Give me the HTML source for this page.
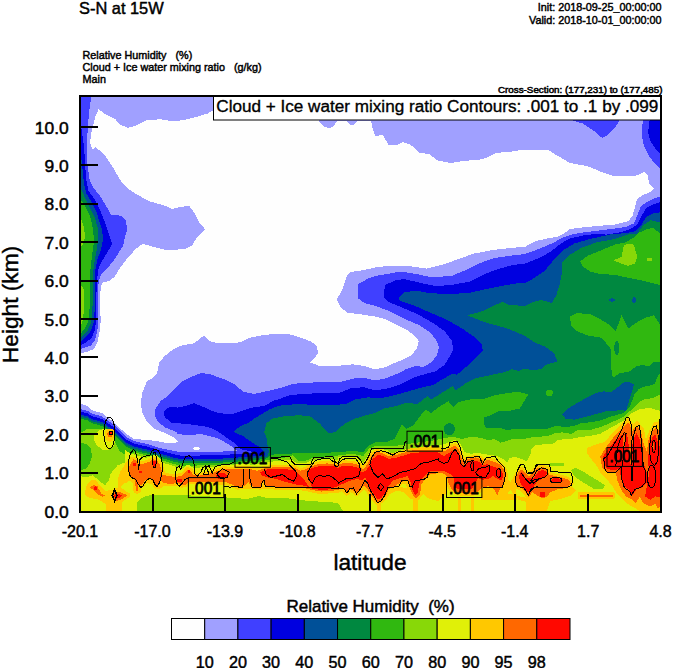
<!DOCTYPE html>
<html><head><meta charset="utf-8"><title>S-N at 15W</title>
<style>
html,body{margin:0;padding:0;background:#fff;}
body{width:674px;height:668px;overflow:hidden;font-family:"Liberation Sans",sans-serif;}
svg{display:block;font-family:"Liberation Sans",sans-serif;}
</style></head><body>
<svg width="674" height="668" viewBox="0 0 674 668">
<rect width="674" height="668" fill="#fff"/>
<defs><clipPath id="pc"><rect x="81" y="97" width="579" height="414"/></clipPath></defs>
<g clip-path="url(#pc)" shape-rendering="crispEdges">
<rect x="81" y="97" width="579" height="414" fill="#a0a0ff"/>
<polygon fill="#fefefe" points="98.6,109.1 104.2,113.6 115.4,119.2 119.9,124.8 127.8,127.7 135.6,125.9 146.9,120.3 160.3,119.2 171.6,121.0 182.8,120.3 196.3,116.9 207.5,113.6 213.1,110.2 213.0,105.0 318.0,105.0 319.0,121.0 323.0,126.0 328.0,128.0 333.0,127.0 337.0,121.0 346.0,121.0 350.0,125.0 354.0,125.0 357.5,121.0 371.0,121.0 372.5,128.0 375.0,136.0 382.9,134.9 388.5,145.0 397.5,145.0 403.0,142.1 410.9,145.0 419.9,152.9 428.9,154.0 437.9,160.7 451.4,163.0 464.8,160.7 478.3,160.1 487.3,157.4 496.3,152.9 509.7,151.8 525.0,149.5 547.4,149.5 556.4,155.1 569.9,162.9 587.8,166.3 601.3,171.9 614.8,176.4 628.2,176.4 637.2,175.3 643.9,171.9 647.3,174.2 649.6,184.3 654.0,188.7 650.7,192.1 643.9,194.4 637.2,198.8 635.0,206.7 632.7,215.7 628.2,221.3 614.8,224.6 599.1,225.8 583.3,227.3 569.9,229.1 564.0,233.6 556.4,237.0 547.4,238.5 536.2,241.0 525.0,246.8 509.7,248.0 491.8,250.2 473.8,253.6 458.1,259.2 442.4,264.8 426.7,268.6 410.9,266.4 399.7,265.5 388.5,265.9 375.0,267.5 364.2,270.0 350.8,272.0 347.4,274.9 341.8,290.6 336.6,299.6 340.6,307.5 347.4,312.6 359.7,314.2 375.0,316.5 386.2,319.4 397.5,325.4 408.7,331.1 415.4,336.7 418.8,341.2 416.5,349.0 410.9,355.8 401.9,360.2 393.0,363.6 386.2,367.0 375.0,369.5 364.2,365.9 353.0,364.3 337.3,365.9 319.3,365.9 310.3,362.5 314.8,358.0 318.2,352.4 316.6,345.7 310.3,341.2 301.4,337.8 290.1,334.4 274.4,333.8 260.9,335.5 249.7,337.8 240.7,342.3 225.0,343.4 218.7,343.4 209.7,341.2 204.1,335.5 199.6,338.9 194.0,343.4 180.5,345.7 173.8,349.0 164.8,355.8 159.2,362.5 157.0,373.7 152.5,378.0 146.9,381.2 142.4,392.5 140.6,403.7 142.4,412.7 146.9,421.7 153.6,428.4 164.8,432.9 173.8,437.4 178.3,441.4 173.8,443.5 164.8,442.6 155.8,441.0 146.8,439.9 134.2,439.0 127.1,434.5 119.9,428.2 113.6,421.9 101.9,413.0 93.0,410.8 87.6,406.1 81.0,404.0 81.0,353.1 87.4,351.7 94.1,349.0 97.5,342.3 99.7,331.1 100.8,319.8 99.7,306.4 100.2,292.9 101.9,282.8 108.7,281.2 114.3,277.2 119.9,268.2 126.7,259.2 135.6,249.1 142.4,243.9 153.6,246.8 167.1,250.2 185.0,249.1 191.8,245.7 197.4,236.7 205.3,229.5 198.5,221.4 194.0,212.4 189.5,206.1 180.5,206.8 172.7,209.0 164.8,205.7 149.1,201.2 136.8,194.4 127.8,188.8 119.9,179.8 114.3,169.7 106.4,157.4 99.7,150.6 95.7,147.3 92.5,149.5 90.3,143.9 90.7,134.9 93.0,125.9 95.2,116.9"/>
<ellipse fill="#fefefe" cx="196.5" cy="448.4" rx="3.5" ry="1.5"/>
<polygon fill="#4040ff" points="81.0,97.0 91.2,97.0 89.6,108.0 88.5,119.2 87.4,134.9 86.7,148.4 87.4,164.1 89.6,179.8 94.1,188.8 99.7,195.5 105.3,204.5 110.9,214.6 121.0,215.8 125.5,220.2 127.1,227.0 127.0,230.0 124.4,239.0 123.3,245.7 118.8,252.5 113.2,261.4 106.4,269.3 100.8,274.9 98.6,281.7 97.9,297.4 98.1,315.3 97.5,328.8 95.2,340.0 90.7,345.7 84.0,347.9 81.0,349.0"/>
<polygon fill="#4040ff" points="573.2,118.0 573.2,120.7 583.3,123.7 594.6,131.5 602.4,138.2 609.2,133.8 614.8,128.1 619.3,120.7 619.3,118.0"/>
<polygon fill="#4040ff" points="642.8,118.0 642.8,120.7 641.7,134.9 643.9,146.1 648.4,155.1 654.0,162.9 660.0,168.5 660.0,118.0"/>
<polygon fill="#4040ff" points="660.0,196.6 652.9,198.8 646.2,202.2 640.6,206.7 637.2,215.7 633.8,223.5 626.0,226.9 610.3,229.1 592.3,231.4 578.9,233.0 570.0,235.0 563.1,237.5 551.9,243.5 538.5,249.1 525.0,254.0 509.7,255.8 494.0,258.1 478.3,263.7 464.8,270.4 451.4,276.0 431.1,277.2 415.4,273.8 399.7,271.5 388.5,273.8 375.0,276.0 368.7,278.3 358.2,283.9 358.2,298.5 364.2,303.0 375.0,305.8 388.5,310.8 404.2,318.7 419.9,325.4 431.1,333.3 436.8,341.2 439.0,346.8 436.8,355.8 431.1,362.5 423.3,367.0 415.4,365.9 406.4,369.0 399.7,372.6 386.2,378.2 375.0,380.5 364.2,377.7 353.0,378.6 341.8,381.5 326.1,381.5 310.3,382.7 292.4,383.8 283.4,387.2 269.9,390.5 254.2,393.9 243.0,391.6 234.0,383.8 225.0,379.3 218.7,377.5 209.7,374.0 200.8,373.0 191.8,376.7 182.8,381.2 176.0,388.0 169.3,394.7 160.3,401.4 154.7,410.4 154.7,414.9 158.1,421.7 164.8,427.3 176.0,431.8 178.0,434.3 192.8,435.1 200.3,433.9 207.7,435.8 216.6,438.0 224.0,441.7 231.4,446.2 235.1,449.9 240.0,452.0 260.3,448.5 252.0,449.5 238.0,450.5 222.5,451.5 207.7,451.5 192.8,452.5 182.5,452.4 175.0,451.2 168.4,449.8 160.0,448.0 152.8,445.7 146.8,444.0 134.2,441.2 127.1,437.6 119.9,430.7 113.6,424.6 101.9,416.4 93.0,413.9 87.6,411.0 81.0,409.2 81.0,511.0 660.0,511.0"/>
<polygon fill="#0000e0" points="81.0,126.0 84.0,146.1 85.1,164.1 86.2,179.8 88.5,191.0 95.2,200.0 99.7,209.0 104.2,220.2 108.7,233.7 112.1,243.5 108.7,250.2 103.1,259.2 98.6,268.2 97.0,279.4 96.3,297.4 96.3,315.3 95.2,328.8 91.8,337.8 86.2,342.3 81.0,345.0"/>
<polygon fill="#0000e0" points="649.6,118.0 649.6,120.7 648.0,132.6 650.7,141.6 655.2,148.3 660.0,154.0 660.0,118.0"/>
<polygon fill="#0000e0" points="660.0,202.2 652.9,204.5 646.2,207.8 641.7,215.7 637.2,224.6 630.5,229.1 619.3,232.5 605.8,234.7 599.1,233.5 583.3,235.5 569.9,238.5 560.9,243.5 549.7,252.4 536.2,259.2 525.0,263.7 514.2,264.8 500.8,268.2 485.0,273.8 469.3,281.7 451.4,285.0 435.6,286.1 419.9,282.8 404.2,279.0 395.2,280.5 385.1,285.0 383.5,295.1 383.5,297.4 388.5,301.9 401.9,307.5 417.7,314.2 433.4,323.2 444.6,331.1 451.4,340.0 453.6,349.0 450.2,355.7 444.6,364.7 435.6,371.4 426.7,373.7 415.4,377.0 401.9,383.8 388.5,388.3 375.0,390.5 364.2,387.2 350.8,388.3 339.5,392.8 323.8,392.8 305.8,393.9 290.1,395.0 278.0,399.5 273.0,400.9 264.1,406.1 255.2,406.9 244.8,409.8 234.4,413.5 227.0,414.3 215.1,412.1 203.2,406.9 194.3,403.2 186.0,406.0 178.0,407.6 169.3,407.0 163.7,411.5 164.8,417.2 171.6,422.8 178.0,423.2 192.8,424.7 207.7,426.9 216.6,430.6 224.0,435.8 231.4,441.0 235.9,444.0 240.0,449.0 262.0,454.0 260.3,452.0 252.0,453.0 238.0,454.0 222.5,455.0 207.7,455.0 192.8,456.0 182.5,455.9 175.0,454.6 168.4,452.8 160.0,450.5 152.8,448.2 146.8,446.5 134.2,443.7 127.1,440.1 119.9,433.2 113.6,427.1 101.9,418.9 93.0,416.4 87.6,413.5 81.0,411.7 81.0,511.0 660.0,511.0"/>
<polygon fill="#005098" points="81.0,156.0 82.2,166.0 83.4,178.5 84.5,186.0 86.2,193.3 91.8,202.3 96.3,211.3 99.7,222.5 102.0,230.0 103.1,239.0 100.8,250.2 97.5,259.2 95.2,270.4 94.8,286.1 94.8,308.6 93.4,324.3 89.6,333.3 84.0,338.9 81.0,341.2"/>
<polygon fill="#005098" points="660.0,212.3 652.9,213.4 646.2,216.8 641.7,224.6 635.0,231.4 626.0,233.0 610.3,234.5 590.1,239.0 574.4,243.5 563.1,250.2 554.2,259.2 545.2,270.4 534.0,278.2 525.0,283.0 516.5,283.4 503.0,285.7 487.3,288.8 469.3,292.9 451.4,294.0 431.1,293.3 415.4,290.6 404.2,292.4 399.0,297.4 399.7,300.7 413.2,305.2 428.9,312.0 446.9,319.8 462.6,328.8 473.8,336.7 481.7,344.5 482.8,350.1 480.5,353.5 473.8,360.2 464.8,368.1 457.0,374.8 452.5,373.7 442.4,379.3 433.4,384.9 423.3,387.2 410.9,390.5 399.7,393.9 386.2,397.3 375.0,398.5 368.7,397.3 355.2,399.5 346.3,404.0 332.8,405.1 317.1,405.1 299.1,404.0 283.4,405.1 278.0,406.1 270.0,409.1 262.6,413.5 255.2,418.0 247.7,423.2 240.3,426.2 233.6,431.4 237.3,433.9 243.3,435.8 247.7,439.5 252.2,442.5 258.1,446.2 262.0,449.0 265.0,454.0 264.0,457.0 260.3,455.5 252.0,456.5 238.0,457.5 222.5,458.5 207.7,458.5 192.8,459.5 182.5,459.4 175.0,458.0 168.4,456.0 160.0,453.5 152.8,451.2 146.8,449.5 134.2,446.7 127.1,443.1 119.9,436.2 113.6,430.1 101.9,421.9 93.0,419.4 87.6,416.5 81.0,414.7 81.0,511.0 660.0,511.0"/>
<polygon fill="#008840" points="81.0,188.8 85.1,197.8 89.6,206.8 94.1,215.8 97.5,227.0 97.9,241.2 96.3,252.5 94.1,263.7 92.5,279.4 92.5,306.4 91.2,322.1 87.4,331.1 82.9,335.5 81.0,337.0"/>
<polygon fill="#008840" points="660.0,222.4 650.7,220.2 643.9,224.6 637.2,233.6 628.2,234.5 614.8,239.0 596.8,242.3 581.1,248.0 569.9,254.7 562.0,262.5 562.0,272.6 559.8,283.9 556.4,295.1 551.9,302.9 540.7,300.0 534.0,301.8 525.0,305.8 509.7,305.2 503.0,301.9 491.8,306.4 480.5,312.0 467.1,315.3 478.3,319.8 491.8,324.3 505.2,327.7 516.5,332.2 525.0,336.0 534.0,342.2 545.2,346.7 554.2,353.4 557.5,361.8 547.4,364.0 540.7,369.2 531.7,370.3 525.0,368.5 518.7,370.8 512.0,369.2 503.0,372.6 491.8,374.8 476.1,378.2 464.8,383.8 455.8,390.5 452.5,386.0 449.1,388.3 440.1,393.9 431.1,399.5 427.8,396.1 424.4,398.4 417.7,404.0 406.4,402.9 395.2,406.2 384.0,408.5 375.0,413.0 366.5,415.2 355.2,418.6 344.0,424.2 335.0,432.1 328.3,433.2 319.3,423.1 310.3,416.4 299.1,415.2 283.4,416.4 272.2,418.6 266.5,423.1 264.3,432.1 266.9,438.9 267.7,446.3 269.0,452.0 267.0,457.0 260.3,457.5 252.0,458.5 238.0,459.5 222.5,460.5 207.7,460.5 192.8,461.5 182.5,461.4 175.0,460.0 168.4,458.0 160.0,455.5 152.8,453.2 146.8,451.5 134.2,448.7 127.1,445.1 119.9,438.2 113.6,432.1 101.9,423.9 93.0,421.4 87.6,418.5 81.0,416.7 81.0,511.0 660.0,511.0"/>
<polygon fill="#005098" points="562.0,414.1 569.9,407.3 583.3,399.5 596.8,392.7 603.5,391.3 610.2,392.6 616.9,387.9 623.7,382.5 629.1,381.9 633.8,384.5 632.4,390.6 629.7,398.7 627.7,405.4 626.4,410.8 621.0,410.1 614.2,410.8 607.5,410.8 600.8,412.8 587.8,416.3 574.4,419.7 565.4,418.5"/>
<ellipse fill="#005098" cx="612.0" cy="300.0" rx="2.8" ry="1.7"/>
<polygon fill="#005098" points="631.6,300.0 634.0,296.2 636.5,300.0 634.0,304.0"/>
<polygon fill="#30b810" points="81.0,200.0 86.2,207.9 90.7,218.0 93.0,229.2 94.1,241.2 92.5,252.5 90.7,265.9 89.6,286.1 89.6,308.6 88.0,322.1 84.4,328.8 81.0,333.3"/>
<polygon fill="#30b810" points="580.0,261.4 587.8,255.8 601.3,250.2 614.8,244.6 626.0,242.3 635.0,236.7 639.5,232.5 646.2,229.5 652.9,227.5 660.0,233.6 660.0,285.0 650.7,282.7 641.7,280.5 630.5,278.2 614.8,274.9 599.1,273.8 590.1,271.5 583.3,267.0"/>
<polygon fill="#30b810" points="569.9,316.4 576.6,313.0 590.1,314.2 601.3,319.8 610.3,325.4 615.9,331.0 621.5,315.3 628.2,328.7 637.2,322.0 646.2,317.5 654.0,315.3 660.0,324.3 660.0,361.6 653.3,362.3 649.3,366.4 643.9,365.3 637.1,365.7 629.1,371.8 619.6,373.1 612.9,377.8 611.5,370.4 610.9,361.0 611.5,351.5 609.2,346.7 601.3,337.7 587.8,335.5 576.6,331.0 571.0,325.4"/>
<ellipse fill="#008840" cx="616.7" cy="348.0" rx="2.5" ry="7.0"/>
<ellipse fill="#30b810" cx="549.5" cy="392.9" rx="3.3" ry="3.3"/>
<polygon fill="#30b810" points="660.0,373.1 657.3,377.1 654.6,383.9 649.3,385.9 643.9,386.6 638.5,389.3 634.4,394.6 631.8,401.4 629.1,408.1 628.0,408.0 623.7,413.0 611.2,416.5 600.0,420.5 592.0,422.0 580.1,423.5 574.2,425.8 565.3,427.3 556.4,425.8 547.5,428.7 537.1,428.7 525.2,429.5 514.8,428.7 507.4,430.2 500.0,428.0 486.7,428.2 483.6,424.0 483.6,417.8 489.9,415.7 498.2,411.5 510.6,410.5 520.0,408.4 524.1,401.2 528.3,394.5 518.9,391.8 508.5,392.9 496.1,394.9 483.6,399.1 471.2,399.1 458.7,402.2 453.5,407.4 448.3,401.2 440.0,406.4 431.1,413.0 425.5,409.6 419.9,416.4 413.2,425.3 406.4,428.7 401.9,424.2 398.8,430.0 394.4,438.9 387.0,441.9 376.6,441.9 367.7,446.3 363.2,452.3 352.8,450.8 338.0,452.3 314.8,453.0 292.4,453.5 275.0,454.0 270.0,456.0 266.0,458.5 260.3,459.5 252.0,460.5 238.0,461.5 222.5,462.5 207.7,462.5 192.8,463.5 182.5,463.4 175.0,462.0 168.4,460.0 160.0,457.5 152.8,455.2 146.8,453.5 134.2,450.7 127.1,447.1 119.9,440.2 113.6,434.1 101.9,425.9 93.0,423.4 87.6,420.5 81.0,418.7 81.0,511.0 660.0,511.0"/>
<ellipse fill="#008840" cx="449.3" cy="429.2" rx="5.5" ry="6.0"/>
<polygon fill="#88d808" points="81.0,219.0 84.0,227.0 85.1,236.7 83.5,243.5 81.0,247.0"/>
<polygon fill="#88d808" points="81.0,285.0 83.5,289.0 84.0,300.0 83.5,314.0 82.5,321.0 81.0,325.0"/>
<polygon fill="#88d808" points="613.6,260.3 621.5,256.9 623.7,245.7 628.2,243.5 633.8,244.6 637.2,256.9 635.0,263.7 628.2,265.9 621.5,263.7"/>
<polygon fill="#88d808" points="647.3,258.0 651.8,258.0 651.8,261.4 647.3,261.4"/>
<polygon fill="#88d808" points="660.0,394.6 654.6,397.3 649.3,398.7 643.9,399.4 639.8,401.4 637.0,404.0 634.0,407.0 630.0,411.0 623.7,416.8 611.2,422.5 600.0,427.3 589.0,430.2 578.6,429.5 571.2,433.9 562.3,432.4 554.9,433.2 547.5,436.2 534.1,436.9 522.3,439.4 511.9,439.1 505.9,441.4 500.3,442.6 494.4,438.9 488.4,440.4 482.5,438.2 472.1,436.7 461.7,438.9 452.8,436.7 442.5,438.5 430.0,441.0 418.0,442.5 406.2,444.1 397.3,445.6 387.0,446.3 376.6,445.6 369.2,448.5 363.2,456.0 352.8,453.7 338.0,455.5 333.0,456.7 321.1,456.7 312.2,458.2 304.8,461.2 297.3,460.4 292.9,455.2 282.5,458.2 267.7,459.7 263.0,461.0 260.3,461.8 252.0,462.8 238.0,463.8 222.5,464.8 207.7,464.8 192.8,465.8 182.5,465.7 175.0,464.3 168.4,462.3 160.0,459.8 152.8,457.1 146.8,455.3 134.2,452.3 127.1,456.0 119.9,451.2 113.6,440.1 101.9,429.4 93.0,428.9 87.6,428.8 81.0,432.7 81.0,511.0 660.0,511.0"/>
<polygon fill="#30b810" points="81.0,443.0 86.0,444.0 91.0,449.0 92.0,456.0 90.0,463.0 87.0,468.0 81.0,470.0"/>
<polygon fill="#e0f008" points="94.0,436.0 98.0,431.0 104.0,428.5 110.0,429.0 114.0,433.0 115.5,440.0 113.0,447.0 108.0,450.0 102.0,449.5 96.5,445.0 94.0,440.0"/>
<polygon fill="#e0f008" points="81.0,476.4 87.3,477.0 92.5,475.4 96.7,478.5 99.8,481.6 105.0,485.2 109.1,480.6 110.2,474.3 113.3,470.2 117.4,465.5 122.0,463.5 124.5,462.5 124.5,449.0 126.0,450.4 127.5,451.7 129.0,452.5 130.5,453.2 132.0,454.0 133.5,454.5 135.0,455.2 136.5,455.6 138.0,455.9 139.5,456.3 141.0,456.6 142.5,456.9 144.0,457.3 145.5,457.6 147.0,457.6 148.5,457.1 150.0,456.5 151.5,455.6 153.0,454.7 154.5,454.8 156.0,455.3 157.5,455.7 159.0,457.4 160.5,459.1 162.0,461.7 163.5,462.9 165.0,463.4 166.5,463.8 168.0,464.3 169.5,464.7 171.0,465.2 172.5,465.6 174.0,466.1 175.5,466.5 177.0,466.8 178.5,467.1 180.0,467.3 181.5,467.6 183.0,467.8 184.5,467.2 186.0,465.9 187.5,464.7 189.0,465.1 190.5,465.6 192.0,467.3 193.5,467.9 195.0,467.8 196.5,467.7 198.0,467.6 199.5,467.5 201.0,467.3 202.5,467.2 204.0,467.1 205.5,467.0 207.0,466.9 208.5,466.9 210.0,466.9 211.5,466.9 213.0,466.9 214.5,466.9 216.0,466.9 217.5,466.4 219.0,465.9 220.5,465.3 222.0,464.8 223.5,464.3 225.0,464.2 226.5,464.5 228.0,464.7 229.5,464.9 231.0,464.9 232.5,464.7 234.0,464.5 235.5,464.3 237.0,464.1 238.5,464.0 240.0,464.1 241.5,464.1 243.0,464.2 244.5,464.2 246.0,464.3 247.5,464.3 249.0,464.4 250.5,464.5 252.0,464.9 253.5,464.7 255.0,464.5 256.5,464.4 258.0,464.2 259.5,464.0 261.0,463.9 262.5,463.9 264.0,461.9 265.5,461.9 267.0,461.9 268.5,461.8 270.0,461.7 271.5,461.6 273.0,461.5 274.5,461.3 276.0,461.2 277.5,461.1 279.0,461.0 280.5,460.9 282.0,460.7 283.5,460.6 285.0,460.4 286.5,460.3 288.0,460.1 289.5,459.9 291.0,459.7 292.5,460.4 294.0,461.3 295.5,462.3 297.0,463.2 298.5,463.4 300.0,463.4 301.5,463.4 303.0,463.4 304.5,463.4 306.0,462.9 307.5,462.3 309.0,461.7 310.5,461.1 312.0,460.5 313.5,460.2 315.0,459.9 316.5,459.7 318.0,459.4 319.5,459.2 321.0,458.9 322.5,458.9 324.0,458.9 325.5,458.9 327.0,458.9 328.5,458.9 330.0,458.9 331.5,458.9 333.0,458.9 334.5,459.3 336.0,459.8 337.5,460.2 338.0,457.4 345.4,456.0 355.8,456.0 360.3,458.9 363.2,463.4 366.2,458.2 370.6,450.8 376.6,448.5 387.0,450.0 392.9,454.5 397.3,451.5 406.2,449.3 420.0,447.5 433.0,446.0 442.5,444.8 449.9,441.9 455.1,439.6 460.3,443.4 464.7,452.3 470.6,453.7 478.1,453.0 487.0,454.5 497.3,456.0 503.3,458.9 507.0,462.6 509.2,458.2 515.1,456.7 521.1,458.9 527.0,461.2 530.7,453.7 531.2,449.5 535.6,445.0 544.5,444.3 553.4,443.6 557.9,439.9 565.3,439.1 574.2,438.4 580.1,436.9 589.0,436.2 600.0,433.9 611.2,427.5 623.7,420.5 632.0,413.0 640.0,409.0 650.0,408.0 660.0,410.8 660.0,511.0 81.0,511.0"/>
<polygon fill="#88d808" points="571.0,470.0 575.5,467.8 582.9,471.5 590.3,476.0 597.7,480.4 605.2,485.6 602.2,489.3 594.8,489.3 587.3,484.9 579.9,480.4 574.0,476.0"/>
<polygon fill="#88d808" points="550.0,463.4 563.6,463.4 563.6,466.4 550.0,466.4"/>
<polygon fill="#88d808" points="136.5,511.0 136.5,503.0 140.0,499.0 146.0,496.0 152.8,495.0 182.0,495.0 210.0,496.5 238.0,498.2 247.0,499.0 259.0,496.0 267.7,498.2 282.5,497.5 297.3,499.7 312.0,501.2 327.0,502.0 338.0,503.0 343.0,511.0"/>
<polygon fill="#ffc800" points="105.0,433.0 108.0,430.0 112.0,430.5 113.5,434.0 113.0,439.0 110.5,442.0 107.0,441.0 105.0,437.0"/>
<polygon fill="#ffc800" points="85.2,492.0 86.3,485.8 90.4,480.6 94.6,479.5 97.7,482.7 101.8,487.8 106.0,491.0 113.3,489.4 118.5,487.3 117.9,480.6 119.0,474.3 121.6,471.2 124.7,473.3 125.7,478.5 123.7,483.7 120.5,487.3 124.7,489.9 128.8,494.1 126.8,498.2 122.6,501.3 121.6,504.5 121.6,511.0 106.0,511.0 106.0,504.5 101.8,501.3 97.7,499.3 91.5,498.2 87.3,497.2 85.2,495.1"/>
<polygon fill="#ffc800" points="119.0,481.0 120.0,472.0 124.0,466.0 127.0,461.0 131.0,458.0 131.0,480.0 126.0,483.0"/>
<polygon fill="#ffc800" points="421.0,479.0 426.0,474.0 438.0,472.0 447.0,473.0 447.0,492.0 438.0,501.2 427.0,498.0 421.0,492.0"/>
<polygon fill="#ffc800" points="388.0,489.0 400.0,487.0 410.0,489.0 418.1,501.2 409.2,498.2 403.3,492.3 397.3,490.5 390.0,494.0"/>
<polygon fill="#ffc800" points="482.0,481.0 506.0,478.0 510.7,481.9 513.0,478.0 516.0,480.0 516.0,492.0 518.1,499.7 527.0,502.0 538.0,501.2 538.0,490.0 527.0,498.0 513.7,495.3 510.7,489.3 506.2,495.3 500.3,499.7 494.4,498.2 486.0,495.5 482.0,495.0"/>
<polygon fill="#ffc800" points="526.0,498.0 547.0,497.0 550.0,501.0 547.0,511.0 526.0,511.0"/>
<polygon fill="#ffc800" points="528.0,488.0 571.0,486.0 576.0,490.0 570.0,496.0 560.0,499.0 550.0,501.0 528.0,501.0"/>
<polygon fill="#ffc800" points="611.1,434.5 605.2,441.9 594.8,444.8 587.3,447.8 587.3,453.7 591.8,459.7 597.7,467.1 600.7,473.0 606.6,479.0 612.6,486.4 617.0,493.8 622.9,499.7 628.0,504.2 640.0,511.0 662.0,511.0 662.0,420.7 653.7,422.4 650.5,429.3 647.0,446.0 644.0,429.0 641.6,425.8 637.3,420.7 633.0,424.1 628.7,417.2 622.7,422.4 612.4,432.7"/>
<polygon fill="#ffc800" points="126.5,470.0 127.5,461.0 130.0,457.5 133.4,456.8 137.0,458.3 139.5,461.5 143.7,461.0 149.7,459.0 153.4,456.8 157.5,458.0 161.0,462.0 163.5,467.0 165.5,474.0 167.0,477.5 172.0,477.8 176.0,476.5 178.0,473.5 182.0,472.5 184.5,469.5 187.5,467.0 191.0,468.0 193.5,472.0 197.3,473.5 204.8,472.0 212.2,470.5 218.1,468.5 224.0,466.4 230.0,467.3 238.0,466.3 249.9,466.7 257.3,468.5 263.2,466.4 275.1,464.9 287.0,464.6 294.4,465.3 300.3,468.0 306.2,466.8 310.7,463.9 318.1,461.6 327.0,460.9 338.0,462.4 338.0,492.3 321.0,493.0 304.8,490.0 282.5,489.0 238.0,489.3 227.0,485.0 200.0,484.0 188.0,484.5 182.0,488.0 176.0,484.0 167.0,482.5 163.0,487.0 158.0,489.5 152.0,484.0 146.0,483.0 141.0,488.0 136.0,487.0 131.0,482.0 127.0,478.0"/>
<polygon fill="#ffc800" points="376.7,499.0 381.0,499.0 381.0,511.0 376.7,511.0"/>
<polygon fill="#ffc800" points="413.4,499.0 417.9,499.0 417.9,511.0 413.4,511.0"/>
<polygon fill="#ffc800" points="458.0,498.0 461.0,498.0 461.0,511.0 458.0,511.0"/>
<polygon fill="#ffc800" points="471.0,498.0 473.5,498.0 473.5,511.0 471.0,511.0"/>
<polygon fill="#ffc800" points="481.0,494.0 500.0,493.0 517.0,494.5 517.0,499.5 500.0,500.0 481.0,499.5"/>
<polygon fill="#ffc800" stroke="#ffc800" stroke-width="5.0" stroke-linejoin="round" points="130.4,463.7 133.4,459.3 136.3,460.8 139.3,464.5 143.7,463.7 149.7,461.5 153.4,459.3 157.1,460.8 160.1,465.2 162.3,472.6 160.8,478.6 158.6,484.5 155.6,486.0 153.4,481.5 149.7,478.6 145.2,480.1 142.3,484.5 139.3,486.0 136.3,481.5 132.6,478.6 129.6,474.1 128.9,468.2"/>
<polygon fill="#ffc800" stroke="#ffc800" stroke-width="5.0" stroke-linejoin="round" points="176.4,480.0 177.5,476.5 182.0,475.5 185.3,472.5 187.5,469.7 190.5,470.5 192.5,474.5 197.3,476.0 204.8,474.5 212.2,473.0 218.1,470.8 224.0,468.6 230.0,469.5 238.0,468.5 249.9,468.9 257.3,470.8 263.2,468.6 275.1,467.1 287.0,467.1 294.4,467.8 300.3,470.8 306.2,469.3 310.7,466.4 318.1,464.1 327.0,463.4 338.0,464.9 339.0,464.9 339.0,490.1 330.0,490.8 321.1,491.6 312.2,490.1 304.8,488.2 289.9,487.1 275.1,487.1 266.2,486.4 263.2,481.9 260.3,487.1 251.4,486.4 248.4,481.9 243.9,486.4 238.0,487.1 227.0,482.5 212.0,481.5 200.0,481.5 188.4,481.5 186.0,484.5 181.0,485.0 176.4,481.5"/>
<polygon fill="#ffc800" stroke="#ffc800" stroke-width="5.0" stroke-linejoin="round" points="338.0,464.9 343.9,462.8 352.8,463.5 358.5,465.0 362.5,469.5 366.2,466.0 369.0,461.0 371.5,455.5 377.5,451.5 382.5,453.2 388.4,456.0 397.3,454.6 404.8,452.5 412.2,450.5 421.1,449.8 430.0,449.8 439.0,449.5 439.0,473.0 430.0,474.5 425.5,477.5 421.1,484.9 420.3,493.8 416.6,498.2 413.7,496.8 410.0,489.3 407.7,480.4 401.8,481.9 394.4,486.4 388.4,489.3 387.0,493.8 382.5,499.7 377.3,502.7 372.1,496.8 367.7,489.3 364.0,486.0 360.3,489.3 356.5,493.8 352.5,490.0 349.9,489.3 346.9,493.0 343.9,489.3 338.0,487.1"/>
<polygon fill="#ffc800" stroke="#ffc800" stroke-width="5.0" stroke-linejoin="round" points="438.0,450.0 443.9,451.5 449.9,447.8 455.1,445.6 458.8,449.3 461.7,458.2 464.0,461.9 467.7,458.9 475.1,457.4 481.0,458.9 484.0,461.9 487.0,459.7 494.4,461.9 500.3,464.9 504.8,470.8 505.5,477.5 503.3,484.9 500.3,487.9 497.3,495.3 494.4,489.3 488.4,486.4 482.5,487.1 478.0,492.0 470.0,494.0 460.0,493.0 452.0,490.0 448.0,482.0 446.9,476.0 443.0,473.5 438.0,473.0"/>
<polygon fill="#ffc800" stroke="#ffc800" stroke-width="5.0" stroke-linejoin="round" points="515.1,479.0 518.1,473.0 521.1,469.3 525.5,473.0 529.0,477.0 532.5,473.0 536.9,468.6 542.8,467.1 548.0,469.3 548.8,474.5 554.7,476.0 562.1,477.5 568.1,479.7 571.0,483.4 566.6,487.9 557.7,489.3 550.3,492.3 547.3,496.8 542.8,498.2 536.9,495.3 532.5,492.3 528.5,496.8 525.5,492.3 521.1,487.9 516.6,486.4"/>
<polygon fill="#ffc800" stroke="#ffc800" stroke-width="5.0" stroke-linejoin="round" points="600.3,456.8 605.0,449.0 610.0,442.0 615.8,434.4 624.4,425.8 628.7,422.4 632.2,431.0 636.5,425.8 640.8,431.0 643.4,443.0 646.8,451.6 648.5,439.6 652.0,431.0 656.3,427.5 662.0,434.4 662.0,503.0 658.0,509.0 655.4,503.3 650.2,506.7 643.4,503.3 639.9,496.4 635.6,503.3 632.2,499.8 626.1,496.4 621.0,489.5 617.5,480.9 615.8,472.3 607.2,472.3 602.0,467.1"/>
<polygon fill="#ffc800" stroke="#ffc800" stroke-width="5.0" stroke-linejoin="round" points="107.0,433.0 109.0,431.0 112.0,431.5 112.5,435.0 111.0,437.5 108.0,437.0"/>
<polygon fill="#ffc800" stroke="#ffc800" stroke-width="5.0" stroke-linejoin="round" points="89.9,487.3 93.5,485.2 97.2,485.8 99.2,489.9 101.8,494.1 105.0,495.6 102.9,496.7 98.7,495.1 95.6,492.0 92.5,489.4"/>
<polygon fill="#ffc800" stroke="#ffc800" stroke-width="5.0" stroke-linejoin="round" points="111.7,495.6 114.3,492.0 120.5,492.5 127.8,495.1 122.6,498.7 117.4,500.8 113.8,499.8"/>
<polygon fill="#ffc800" stroke="#ffc800" stroke-width="5.0" stroke-linejoin="round" points="135.0,481.6 137.5,480.0 138.2,491.0 136.0,491.0"/>
<polygon fill="#ffc800" stroke="#ffc800" stroke-width="5.0" stroke-linejoin="round" points="160.0,474.0 166.0,475.5 172.0,476.5 177.5,477.0 177.5,483.0 170.0,484.0 163.0,483.0 160.0,480.0"/>
<polygon fill="#ffc800" stroke="#ffc800" stroke-width="5.0" stroke-linejoin="round" points="580.0,494.6 612.6,494.6 612.6,496.6 580.0,496.6"/>
<polygon fill="#ff6800" points="130.4,463.7 133.4,459.3 136.3,460.8 139.3,464.5 143.7,463.7 149.7,461.5 153.4,459.3 157.1,460.8 160.1,465.2 162.3,472.6 160.8,478.6 158.6,484.5 155.6,486.0 153.4,481.5 149.7,478.6 145.2,480.1 142.3,484.5 139.3,486.0 136.3,481.5 132.6,478.6 129.6,474.1 128.9,468.2"/>
<polygon fill="#ff6800" points="176.4,480.0 177.5,476.5 182.0,475.5 185.3,472.5 187.5,469.7 190.5,470.5 192.5,474.5 197.3,476.0 204.8,474.5 212.2,473.0 218.1,470.8 224.0,468.6 230.0,469.5 238.0,468.5 249.9,468.9 257.3,470.8 263.2,468.6 275.1,467.1 287.0,467.1 294.4,467.8 300.3,470.8 306.2,469.3 310.7,466.4 318.1,464.1 327.0,463.4 338.0,464.9 339.0,464.9 339.0,490.1 330.0,490.8 321.1,491.6 312.2,490.1 304.8,488.2 289.9,487.1 275.1,487.1 266.2,486.4 263.2,481.9 260.3,487.1 251.4,486.4 248.4,481.9 243.9,486.4 238.0,487.1 227.0,482.5 212.0,481.5 200.0,481.5 188.4,481.5 186.0,484.5 181.0,485.0 176.4,481.5"/>
<polygon fill="#ff6800" points="338.0,464.9 343.9,462.8 352.8,463.5 358.5,465.0 362.5,469.5 366.2,466.0 369.0,461.0 371.5,455.5 377.5,451.5 382.5,453.2 388.4,456.0 397.3,454.6 404.8,452.5 412.2,450.5 421.1,449.8 430.0,449.8 439.0,449.5 439.0,473.0 430.0,474.5 425.5,477.5 421.1,484.9 420.3,493.8 416.6,498.2 413.7,496.8 410.0,489.3 407.7,480.4 401.8,481.9 394.4,486.4 388.4,489.3 387.0,493.8 382.5,499.7 377.3,502.7 372.1,496.8 367.7,489.3 364.0,486.0 360.3,489.3 356.5,493.8 352.5,490.0 349.9,489.3 346.9,493.0 343.9,489.3 338.0,487.1"/>
<polygon fill="#ff6800" points="438.0,450.0 443.9,451.5 449.9,447.8 455.1,445.6 458.8,449.3 461.7,458.2 464.0,461.9 467.7,458.9 475.1,457.4 481.0,458.9 484.0,461.9 487.0,459.7 494.4,461.9 500.3,464.9 504.8,470.8 505.5,477.5 503.3,484.9 500.3,487.9 497.3,495.3 494.4,489.3 488.4,486.4 482.5,487.1 478.0,492.0 470.0,494.0 460.0,493.0 452.0,490.0 448.0,482.0 446.9,476.0 443.0,473.5 438.0,473.0"/>
<polygon fill="#ff6800" points="515.1,479.0 518.1,473.0 521.1,469.3 525.5,473.0 529.0,477.0 532.5,473.0 536.9,468.6 542.8,467.1 548.0,469.3 548.8,474.5 554.7,476.0 562.1,477.5 568.1,479.7 571.0,483.4 566.6,487.9 557.7,489.3 550.3,492.3 547.3,496.8 542.8,498.2 536.9,495.3 532.5,492.3 528.5,496.8 525.5,492.3 521.1,487.9 516.6,486.4"/>
<polygon fill="#ff6800" points="600.3,456.8 605.0,449.0 610.0,442.0 615.8,434.4 624.4,425.8 628.7,422.4 632.2,431.0 636.5,425.8 640.8,431.0 643.4,443.0 646.8,451.6 648.5,439.6 652.0,431.0 656.3,427.5 662.0,434.4 662.0,503.0 658.0,509.0 655.4,503.3 650.2,506.7 643.4,503.3 639.9,496.4 635.6,503.3 632.2,499.8 626.1,496.4 621.0,489.5 617.5,480.9 615.8,472.3 607.2,472.3 602.0,467.1"/>
<polygon fill="#ff6800" points="107.0,433.0 109.0,431.0 112.0,431.5 112.5,435.0 111.0,437.5 108.0,437.0"/>
<polygon fill="#ff6800" points="89.9,487.3 93.5,485.2 97.2,485.8 99.2,489.9 101.8,494.1 105.0,495.6 102.9,496.7 98.7,495.1 95.6,492.0 92.5,489.4"/>
<polygon fill="#ff6800" points="111.7,495.6 114.3,492.0 120.5,492.5 127.8,495.1 122.6,498.7 117.4,500.8 113.8,499.8"/>
<polygon fill="#ff6800" points="135.0,481.6 137.5,480.0 138.2,491.0 136.0,491.0"/>
<polygon fill="#ff6800" points="160.0,474.0 166.0,475.5 172.0,476.5 177.5,477.0 177.5,483.0 170.0,484.0 163.0,483.0 160.0,480.0"/>
<polygon fill="#ff6800" points="580.0,494.6 612.6,494.6 612.6,496.6 580.0,496.6"/>
<polygon fill="#ff0800" points="139.3,471.2 142.3,471.2 142.3,473.4 139.3,473.4"/>
<polygon fill="#ff0800" points="153.4,460.8 155.6,460.8 155.6,468.2 153.4,468.2"/>
<polygon fill="#ff0800" points="133.4,463.0 135.6,463.0 135.6,466.0 133.4,466.0"/>
<polygon fill="#ff0800" points="215.0,476.0 219.0,473.0 225.0,473.5 227.0,476.0 224.0,479.0 218.0,479.0"/>
<polygon fill="#ff0800" points="177.0,478.6 181.6,478.6 181.6,481.5 177.0,481.5"/>
<polygon fill="#ff0800" points="187.5,470.4 189.7,470.4 189.7,473.4 187.5,473.4"/>
<polygon fill="#ff0800" points="260.3,472.3 267.7,469.3 282.5,468.9 292.9,470.1 297.3,473.0 301.8,477.5 305.0,481.0 309.2,487.1 303.3,485.6 294.4,484.2 285.5,481.9 276.6,479.0 267.7,477.5 262.0,475.5"/>
<polygon fill="#ff0800" points="307.7,473.0 310.7,468.6 318.1,466.4 327.0,465.6 334.4,466.4 338.0,467.8 343.9,465.6 352.8,466.4 360.3,468.6 361.7,473.0 366.2,470.1 369.9,465.6 372.1,459.7 378.1,454.5 382.5,456.0 388.4,458.9 397.3,457.4 404.8,455.2 412.2,453.0 421.1,452.3 430.0,452.3 438.0,452.5 443.9,456.0 449.9,452.3 455.1,449.3 458.0,453.7 460.3,461.2 463.2,465.6 467.7,461.9 473.6,460.4 479.5,461.9 482.5,465.6 487.0,464.1 489.9,465.6 494.4,467.1 500.3,468.6 503.3,474.5 501.8,480.4 497.3,479.0 492.9,476.0 488.4,479.0 482.5,479.7 478.0,478.0 472.0,489.3 462.0,489.5 454.0,488.0 454.3,477.5 451.4,474.5 445.4,471.5 438.0,470.5 430.0,471.5 425.5,474.5 421.1,479.0 418.8,484.9 418.1,492.3 415.1,495.3 412.2,489.3 410.7,481.9 407.7,476.0 400.3,478.2 392.9,480.4 388.4,486.4 385.5,492.3 381.0,498.2 377.3,499.0 373.6,493.8 369.9,489.3 367.7,481.9 365.4,477.5 361.7,480.4 357.3,479.0 351.4,480.4 345.4,482.7 338.0,486.0 330.0,489.3 321.1,490.1 312.2,488.6"/>
<polygon fill="#ff0800" points="528.0,477.5 533.9,477.5 538.4,471.5 542.8,470.0 547.3,472.3 545.8,476.0 541.4,479.0 536.9,481.9 532.5,487.9 528.0,492.3 525.5,489.3 521.1,484.9 518.9,476.0 521.8,471.5 525.5,477.5"/>
<polygon fill="#ff0800" points="550.3,480.4 554.7,477.5 560.6,479.0 563.6,480.4 557.7,483.4 553.2,483.4"/>
<polygon fill="#ff0800" points="539.9,492.3 545.0,492.3 545.0,496.8 539.9,496.8"/>
<polygon fill="#ff0800" points="602.9,456.8 607.2,449.9 615.8,439.6 622.7,434.4 627.0,432.7 629.3,450.0 630.5,464.0 631.8,450.0 633.0,439.6 636.5,432.7 639.9,439.6 641.6,451.6 644.2,465.4 646.8,472.3 646.8,482.6 641.6,487.8 636.5,489.5 632.2,495.5 628.7,489.5 623.6,486.1 621.0,477.5 619.3,468.8 614.1,470.6 607.2,468.8 603.8,463.7"/>
<polygon fill="#ff0800" points="649.4,446.5 652.0,437.9 655.4,434.4 658.0,443.0 662.0,451.6 662.0,498.0 655.4,496.4 650.2,499.8 645.1,496.4 646.8,486.1 649.4,472.3 647.7,460.2"/>
<polygon fill="#ff0800" points="93.5,487.3 95.6,485.8 97.7,487.8 96.7,489.9 94.5,489.5"/>
<polygon fill="#ff0800" points="113.8,495.6 115.9,493.6 120.5,494.6 122.6,495.6 119.5,497.7 115.3,499.3"/>
<polygon fill="#ff0800" points="109.0,431.8 112.4,431.8 112.4,434.4 109.0,434.4"/>
<polygon fill="#ff6800" points="651.7,446.0 653.0,440.5 654.3,446.0 653.0,451.5"/>
<polygon fill="#ff6800" points="623.2,436.0 625.5,434.0 625.0,448.0 623.5,448.0"/>
</g>
<g clip-path="url(#pc)" fill="none" stroke="#000" stroke-width="1" shape-rendering="crispEdges">
<ellipse cx="109.4" cy="432.9" rx="5.6" ry="15.7"/>
<path d="M109.5 431.5 L112.0 431.5 L112.0 434.2 L109.5 434.2 Z"/>
<path d="M112.3 495.4L114.6 489.9L116.9 495.4L114.6 500.9Z" stroke-width="1.6"/>
<path d="M128.2 462.3 L130.4 453.4 L133.4 449.6 L135.6 451.9 L137.8 460.8 L138.5 469.7 L140.0 459.3 L143.7 456.3 L149.7 455.6 L151.9 451.1 L154.9 448.9 L158.6 451.1 L161.5 457.8 L162.7 466.7 L161.5 475.6 L159.3 483.0 L157.1 486.7 L154.9 484.5 L152.6 479.3 L148.9 478.6 L146.0 480.8 L143.0 486.0 L140.8 487.5 L137.8 483.8 L135.6 479.3 L131.9 477.8 L129.6 474.9 L128.2 468.2 Z"/>
<ellipse cx="154.4" cy="460.0" rx="1.8" ry="8.0"/>
<path d="M188.2 477.8 L185.3 479.3 L182.3 483.0 L179.3 486.0 L177.1 483.8 L175.6 478.6 L175.6 474.1 L176.4 468.2 L179.3 466.0 L180.8 469.7 L183.1 462.3 L185.3 457.1 L189.0 455.6 L192.7 458.5 L194.2 465.2 L194.9 474.1 L197.2 476.4 L200.9 471.9 L203.1 467.4 L205.3 466.0 L207.5 469.7 L209.0 474.9 L203.3 474.5 L206.2 467.1 L209.2 465.6 L212.2 473.0 L215.2 466.4 L221.1 464.9 L230.0 464.1 L234.4 461.9 L235.2 456.7"/>
<path d="M216.6 473.8 L222.6 468.6 L229.2 472.3 L227.0 477.5 L221.1 479.0 Z"/>
<path d="M224.1 486.4 L230.0 487.1 L238.0 486.4 L238.0 487.1 L242.5 487.1 L243.9 480.4 L243.9 468.6"/>
<path d="M249.1 468.6 L249.9 479.0 L252.1 487.1 L261.0 487.1 L262.5 481.2 L264.0 480.4 L265.4 486.4 L276.6 487.1 L297.3 487.1 L310.7 487.6 L321.1 487.1 L338.0 488.6 L338.0 487.9 L343.9 488.6 L346.9 493.1 L349.9 488.6 L353.6 487.9 L356.5 493.8 L360.3 489.3 L364.7 480.4 L367.7 483.4 L370.6 490.8 L374.4 496.8 L377.3 502.7 L381.0 501.2 L384.7 495.3 L387.7 487.9 L398.8 486.4 L401.8 480.4 L407.7 480.4 L410.0 486.4 L412.2 487.1 L415.2 480.4 L423.3 479.7 L427.0 477.5 L428.5 473.0 L438.0 472.3"/>
<path d="M270.6 457.4 L289.9 456.7 L292.2 461.9 L294.4 464.1 L310.7 464.4 L313.7 457.4 L333.0 456.7 L335.2 461.9 L338.0 463.4 L338.0 466.4 L339.5 458.9 L342.5 456.7 L357.3 456.7 L360.3 459.7 L363.2 464.9 L366.9 459.7 L369.9 453.7 L371.4 448.5 L403.3 448.5 L404.8 442.6 L407.0 441.1"/>
<path d="M270.6 458.2 L278.1 458.9 L287.0 461.9 L291.4 467.1 L295.9 471.5 L296.6 476.0 L293.6 481.2 L288.4 479.0 L282.5 474.5 L276.6 476.0 L270.6 477.5 L266.2 474.5 L264.0 468.6"/>
<path d="M338.0 467.1 L335.2 466.4 L334.4 462.6 L330.0 458.9 L321.1 458.9 L315.2 460.4 L310.7 467.1 L307.0 473.0 L308.5 479.0 L312.2 483.4 L315.2 477.5 L319.6 475.3 L324.1 476.7 L328.5 475.3 L333.0 477.5 L338.0 481.9 L338.0 483.4 L345.4 479.0 L352.8 478.2 L358.8 476.0 L360.3 470.1 L359.5 464.1 L355.8 458.9 L346.9 458.2 L342.5 459.7 L338.0 464.1"/>
<path d="M406.2 450.8 L396.6 452.3 L392.9 455.2 L387.0 452.3 L381.0 450.8 L375.1 452.3 L371.4 458.2 L369.9 464.9 L373.6 473.0 L378.1 477.5 L382.5 473.8 L387.0 479.0 L394.4 476.0 L400.3 472.3 L407.7 470.8 L415.2 468.6 L421.1 463.4 L430.0 461.9 L438.0 458.9 L438.0 460.4 L443.9 463.4 L448.4 461.9 L451.4 453.7 L455.1 449.3 L458.8 454.5 L461.0 464.1 L464.0 467.1 L467.7 461.9 L473.6 460.4"/>
<path d="M380.7 483.4 L383.7 487.1 L380.7 490.8 L377.8 487.1 Z"/>
<path d="M441.0 448.5 L448.4 447.8 L449.9 442.6 L457.3 441.1 L460.3 447.8 L462.5 457.4 L464.7 463.4 L466.9 457.4 L479.5 456.7 L482.5 464.1 L486.2 457.4 L495.1 456.7 L498.8 461.9 L504.0 467.1 L505.5 474.5 L504.0 481.9 L502.5 487.1 L482.5 487.1"/>
<ellipse cx="472.4" cy="466.4" rx="1.5" ry="4.5"/>
<ellipse cx="498.8" cy="473.0" rx="2.2" ry="4.2"/>
<path d="M475.8 472.3 L478.8 468.6 L485.5 467.1 L489.9 464.9 L489.2 471.5 L485.5 477.5 L480.3 476.7 L476.6 474.5 Z"/>
<path d="M538.0 464.9 L535.9 466.4 L533.0 473.0 L527.0 473.0 L524.1 464.9 L520.3 464.9 L517.4 470.8 L515.2 479.0 L515.2 480.4 L517.4 486.4 L524.1 487.9 L528.5 495.3 L530.7 489.3 L538.0 486.4"/>
<path d="M538.0 479.0 L533.0 480.4 L530.0 483.4 L525.5 479.0 L521.1 473.0"/>
<path d="M528.0 472.3 L533.9 472.3 L536.2 464.9 L549.5 464.9 L551.0 471.5 L571.0 473.0 L572.5 477.5 L571.8 484.9 L568.1 487.1 L533.9 487.1 L531.0 490.8 L528.0 495.3"/>
<path d="M531.0 480.4 L533.9 476.0 L536.9 470.8 L541.4 467.8 L547.3 469.3 L548.0 473.8 L544.3 477.5 L538.4 479.0 L533.9 483.4 Z"/>
<ellipse cx="556.2" cy="480.1" rx="5.9" ry="2.7"/>
<path d="M606.7 456.8 L610.7 449.9 L615.8 441.3 L621.8 429.3 L626.1 418.1 L628.7 417.2 L631.0 424.1 L632.2 437.9 L631.3 447.3 L631.0 466.3"/>
<path d="M633.4 466.3 L633.0 447.3 L633.9 434.4 L636.1 426.7 L639.1 425.8 L640.8 434.4 L641.6 447.3 L643.4 466.3"/>
<path d="M649.4 447.3 L651.1 434.4 L653.3 426.7 L656.3 425.8 L658.0 434.4 L658.8 451.6 L657.1 462.0 L654.5 465.4 L651.1 462.0 L649.4 451.6 Z"/>
<ellipse cx="653.7" cy="446.5" rx="1.7" ry="6.0"/>
<ellipse cx="651.6" cy="476.6" rx="4.3" ry="11.2"/>
<path d="M615.8 466.3 L617.5 447.3 L620.1 439.6 L624.4 432.7 L626.1 433.6 L625.3 441.3 L623.6 447.3 L622.7 466.3"/>
<path d="M606.7 456.8 L603.8 458.5 L604.6 468.8 L607.2 472.3 L615.8 472.3 L619.3 468.8 L621.8 466.3 L621.8 479.2 L624.4 487.8 L629.6 491.2 L631.3 495.5 L634.8 489.5 L641.6 486.9 L645.1 482.6 L645.9 472.3 L643.4 466.3"/>
<path d="M631.5 466V481" stroke-width="2"/>
<path d="M659.5 419V440" stroke-width="2"/>
</g>
<g stroke="#000" stroke-width="0.45">
<rect x="213.5" y="96" width="447.5" height="24" fill="#fff" stroke="#000" stroke-width="1"/>
<text x="216.3" y="112.2" stroke-width="0.35" font-size="17.3px" textLength="442" lengthAdjust="spacingAndGlyphs">Cloud + Ice water mixing ratio Contours: .001 to .1 by .099</text>
<rect x="80" y="96" width="581" height="416" fill="none" stroke="#000" stroke-width="2"/>
<path d="M152.9 511V494M225.4 511V494M297.9 511V494M370.3 511V494M442.8 511V494M515.2 511V494M587.7 511V494M81 472.6H98M81 434.2H98M81 395.8H98M81 357.4H98M81 319.0H98M81 280.6H98M81 242.2H98M81 203.8H98M81 165.4H98M81 127.0H98" stroke="#000" stroke-width="2" fill="none" shape-rendering="crispEdges"/>
<text transform="translate(68.7,517.5) scale(1.09,1)" font-size="16px" text-anchor="end">0.0</text>
<text transform="translate(68.7,479.1) scale(1.09,1)" font-size="16px" text-anchor="end">1.0</text>
<text transform="translate(68.7,440.7) scale(1.09,1)" font-size="16px" text-anchor="end">2.0</text>
<text transform="translate(68.7,402.3) scale(1.09,1)" font-size="16px" text-anchor="end">3.0</text>
<text transform="translate(68.7,363.9) scale(1.09,1)" font-size="16px" text-anchor="end">4.0</text>
<text transform="translate(68.7,325.5) scale(1.09,1)" font-size="16px" text-anchor="end">5.0</text>
<text transform="translate(68.7,287.1) scale(1.09,1)" font-size="16px" text-anchor="end">6.0</text>
<text transform="translate(68.7,248.7) scale(1.09,1)" font-size="16px" text-anchor="end">7.0</text>
<text transform="translate(68.7,210.3) scale(1.09,1)" font-size="16px" text-anchor="end">8.0</text>
<text transform="translate(68.7,171.9) scale(1.09,1)" font-size="16px" text-anchor="end">9.0</text>
<text transform="translate(68.7,133.5) scale(1.09,1)" font-size="16px" text-anchor="end">10.0</text>
<text x="80.0" y="537.1" font-size="16px" text-anchor="middle">-20.1</text>
<text x="152.4" y="537.1" font-size="16px" text-anchor="middle">-17.0</text>
<text x="224.9" y="537.1" font-size="16px" text-anchor="middle">-13.9</text>
<text x="297.4" y="537.1" font-size="16px" text-anchor="middle">-10.8</text>
<text x="369.8" y="537.1" font-size="16px" text-anchor="middle">-7.7</text>
<text x="442.2" y="537.1" font-size="16px" text-anchor="middle">-4.5</text>
<text x="514.7" y="537.1" font-size="16px" text-anchor="middle">-1.4</text>
<text x="588.2" y="537.1" font-size="16px" text-anchor="middle">1.7</text>
<text x="660.6" y="537.1" font-size="16px" text-anchor="middle">4.8</text>
<text x="370" y="569.7" font-size="22.7px" text-anchor="middle">latitude</text>
<text transform="translate(17.5,304.5) rotate(-90)" font-size="22.7px" text-anchor="middle">Height (km)</text>
<text x="79" y="13.8" font-size="16.4px">S-N at 15W</text>
<text x="82.5" y="59.2" font-size="10.8px" stroke="#000" stroke-width="0.45" xml:space="preserve">Relative Humidity   (%)</text>
<text x="82.5" y="71.2" font-size="10.8px" stroke="#000" stroke-width="0.45" xml:space="preserve">Cloud + Ice water mixing ratio   (g/kg)</text>
<text x="82.5" y="83.4" font-size="10.8px" stroke="#000" stroke-width="0.45" xml:space="preserve">Main</text>
<text x="661.5" y="11.4" text-anchor="end" font-size="10.8px" stroke="#000" stroke-width="0.45" xml:space="preserve">Init: 2018-09-25_00:00:00</text>
<text x="661.5" y="23.5" text-anchor="end" font-size="10.8px" stroke="#000" stroke-width="0.45" xml:space="preserve">Valid: 2018-10-01_00:00:00</text>
<text x="662.5" y="92.5" text-anchor="end" font-size="9px" textLength="164.5" lengthAdjust="spacingAndGlyphs" stroke="#000" stroke-width="0.5">Cross-Section: (177,231) to (177,485)</text>
<text x="370.5" y="612.2" font-size="17px" text-anchor="middle" xml:space="preserve">Relative Humidity  (%)</text>
<rect x="171.50" y="618.5" width="33.21" height="21" fill="#fefefe" stroke="#000" stroke-width="1"/>
<rect x="204.71" y="618.5" width="33.21" height="21" fill="#a0a0ff" stroke="#000" stroke-width="1"/>
<rect x="237.92" y="618.5" width="33.21" height="21" fill="#4040ff" stroke="#000" stroke-width="1"/>
<rect x="271.12" y="618.5" width="33.21" height="21" fill="#0000e0" stroke="#000" stroke-width="1"/>
<rect x="304.33" y="618.5" width="33.21" height="21" fill="#005098" stroke="#000" stroke-width="1"/>
<rect x="337.54" y="618.5" width="33.21" height="21" fill="#008840" stroke="#000" stroke-width="1"/>
<rect x="370.75" y="618.5" width="33.21" height="21" fill="#30b810" stroke="#000" stroke-width="1"/>
<rect x="403.96" y="618.5" width="33.21" height="21" fill="#88d808" stroke="#000" stroke-width="1"/>
<rect x="437.17" y="618.5" width="33.21" height="21" fill="#e0f008" stroke="#000" stroke-width="1"/>
<rect x="470.38" y="618.5" width="33.21" height="21" fill="#ffc800" stroke="#000" stroke-width="1"/>
<rect x="503.58" y="618.5" width="33.21" height="21" fill="#ff6800" stroke="#000" stroke-width="1"/>
<rect x="536.79" y="618.5" width="33.21" height="21" fill="#ff0800" stroke="#000" stroke-width="1"/>
<text x="204.7" y="668.2" font-size="16.2px" text-anchor="middle">10</text>
<text x="237.9" y="668.2" font-size="16.2px" text-anchor="middle">20</text>
<text x="271.1" y="668.2" font-size="16.2px" text-anchor="middle">30</text>
<text x="304.3" y="668.2" font-size="16.2px" text-anchor="middle">40</text>
<text x="337.5" y="668.2" font-size="16.2px" text-anchor="middle">50</text>
<text x="370.8" y="668.2" font-size="16.2px" text-anchor="middle">60</text>
<text x="404.0" y="668.2" font-size="16.2px" text-anchor="middle">70</text>
<text x="437.2" y="668.2" font-size="16.2px" text-anchor="middle">80</text>
<text x="470.4" y="668.2" font-size="16.2px" text-anchor="middle">90</text>
<text x="503.6" y="668.2" font-size="16.2px" text-anchor="middle">95</text>
<text x="536.8" y="668.2" font-size="16.2px" text-anchor="middle">98</text>
<rect x="188.4" y="477.6" width="35.4" height="20.0" fill="none" stroke="#000" stroke-width="1"/>
<text x="190.8" y="493.6" font-size="17px" textLength="30" lengthAdjust="spacingAndGlyphs" stroke="#000" stroke-width="0.8">.001</text>
<rect x="235.0" y="447.5" width="35.4" height="19.8" fill="none" stroke="#000" stroke-width="1"/>
<text x="237.4" y="463.5" font-size="17px" textLength="30" lengthAdjust="spacingAndGlyphs" stroke="#000" stroke-width="0.8">.001</text>
<rect x="407.0" y="431.2" width="35.4" height="20.0" fill="none" stroke="#000" stroke-width="1"/>
<text x="409.4" y="447.2" font-size="17px" textLength="30" lengthAdjust="spacingAndGlyphs" stroke="#000" stroke-width="0.8">.001</text>
<rect x="446.5" y="477.5" width="35.4" height="20.0" fill="none" stroke="#000" stroke-width="1"/>
<text x="448.9" y="493.5" font-size="17px" textLength="30" lengthAdjust="spacingAndGlyphs" stroke="#000" stroke-width="0.8">.001</text>
<rect x="607.0" y="447.6" width="35.4" height="18.8" fill="none" stroke="#000" stroke-width="1"/>
<text x="609.4" y="462.4" font-size="17px" textLength="30" lengthAdjust="spacingAndGlyphs" stroke="#000" stroke-width="0.8">.001</text>
</g>
</svg>
</body></html>
